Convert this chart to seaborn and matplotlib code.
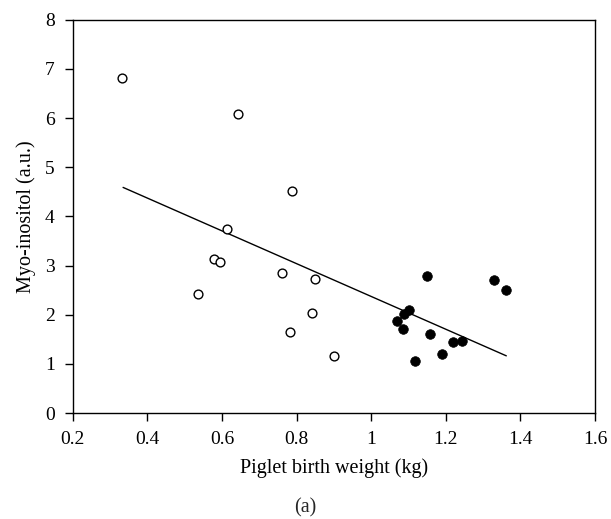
import numpy as np
import pandas as pd
import matplotlib
matplotlib.use("Agg")
import matplotlib.pyplot as plt
import seaborn as sns

# open circles
low_weight = [0.332, 0.644, 0.788, 0.614, 0.579, 0.595, 0.536, 0.760, 0.850, 0.840, 0.781, 0.900]
low_inositol = [6.82, 6.08, 4.51, 3.75, 3.13, 3.07, 2.43, 2.84, 2.72, 2.03, 1.65, 1.16]

# filled circles
high_weight = [1.150, 1.328, 1.360, 1.100, 1.088, 1.069, 1.086, 1.157, 1.220, 1.243, 1.191, 1.117]
high_inositol = [2.79, 2.71, 2.50, 2.09, 2.02, 1.88, 1.72, 1.61, 1.45, 1.47, 1.21, 1.05]

# regression line end points
fit_x = [0.335, 1.362]
fit_y = [4.59, 1.165]

x_ticks = [0.2, 0.4, 0.6, 0.8, 1, 1.2, 1.4, 1.6]
x_labels = ["0.2", "0.4", "0.6", "0.8", "1", "1.2", "1.4", "1.6"]
y_ticks = [0, 1, 2, 3, 4, 5, 6, 7, 8]

sns.set_theme(style="ticks")
plt.rcParams["font.family"] = ["Liberation Serif", "DejaVu Serif"]

low = pd.DataFrame({"w": low_weight, "m": low_inositol})
high = pd.DataFrame({"w": high_weight, "m": high_inositol})
fit = pd.DataFrame({"w": fit_x, "m": fit_y})

fig = plt.figure(figsize=(6.11, 5.19), dpi=100)
ax = fig.add_axes([0.119, 0.204, 0.855, 0.758])

sns.lineplot(data=fit, x="w", y="m", color="black", linewidth=1, ax=ax)
sns.scatterplot(data=low, x="w", y="m", s=40, facecolor="white", edgecolor="black",
                linewidth=1, ax=ax, zorder=3)
sns.scatterplot(data=high, x="w", y="m", s=48, color="black", edgecolor="black",
                linewidth=0.5, ax=ax, zorder=3)

ax.set_xlim(0.2, 1.6)
ax.set_ylim(0, 8)
ax.set_xticks(x_ticks)
ax.set_xticklabels(x_labels)
ax.set_yticks(y_ticks)
ax.tick_params(axis="both", direction="out", length=6, width=1, colors="black",
               labelsize=14, pad=7)
for side in ["top", "right", "left", "bottom"]:
    ax.spines[side].set_visible(True)
    ax.spines[side].set_color("black")
    ax.spines[side].set_linewidth(1)

ax.set_xlabel("Piglet birth weight (kg)", fontsize=14.5, color="black", labelpad=7)
ax.set_ylabel("Myo-inositol (a.u.)", fontsize=14.5, color="black", labelpad=6)
fig.text(0.5, 0.021, "(a)", ha="center", va="center", fontsize=14.5)

fig.savefig("out.png", dpi=100)
